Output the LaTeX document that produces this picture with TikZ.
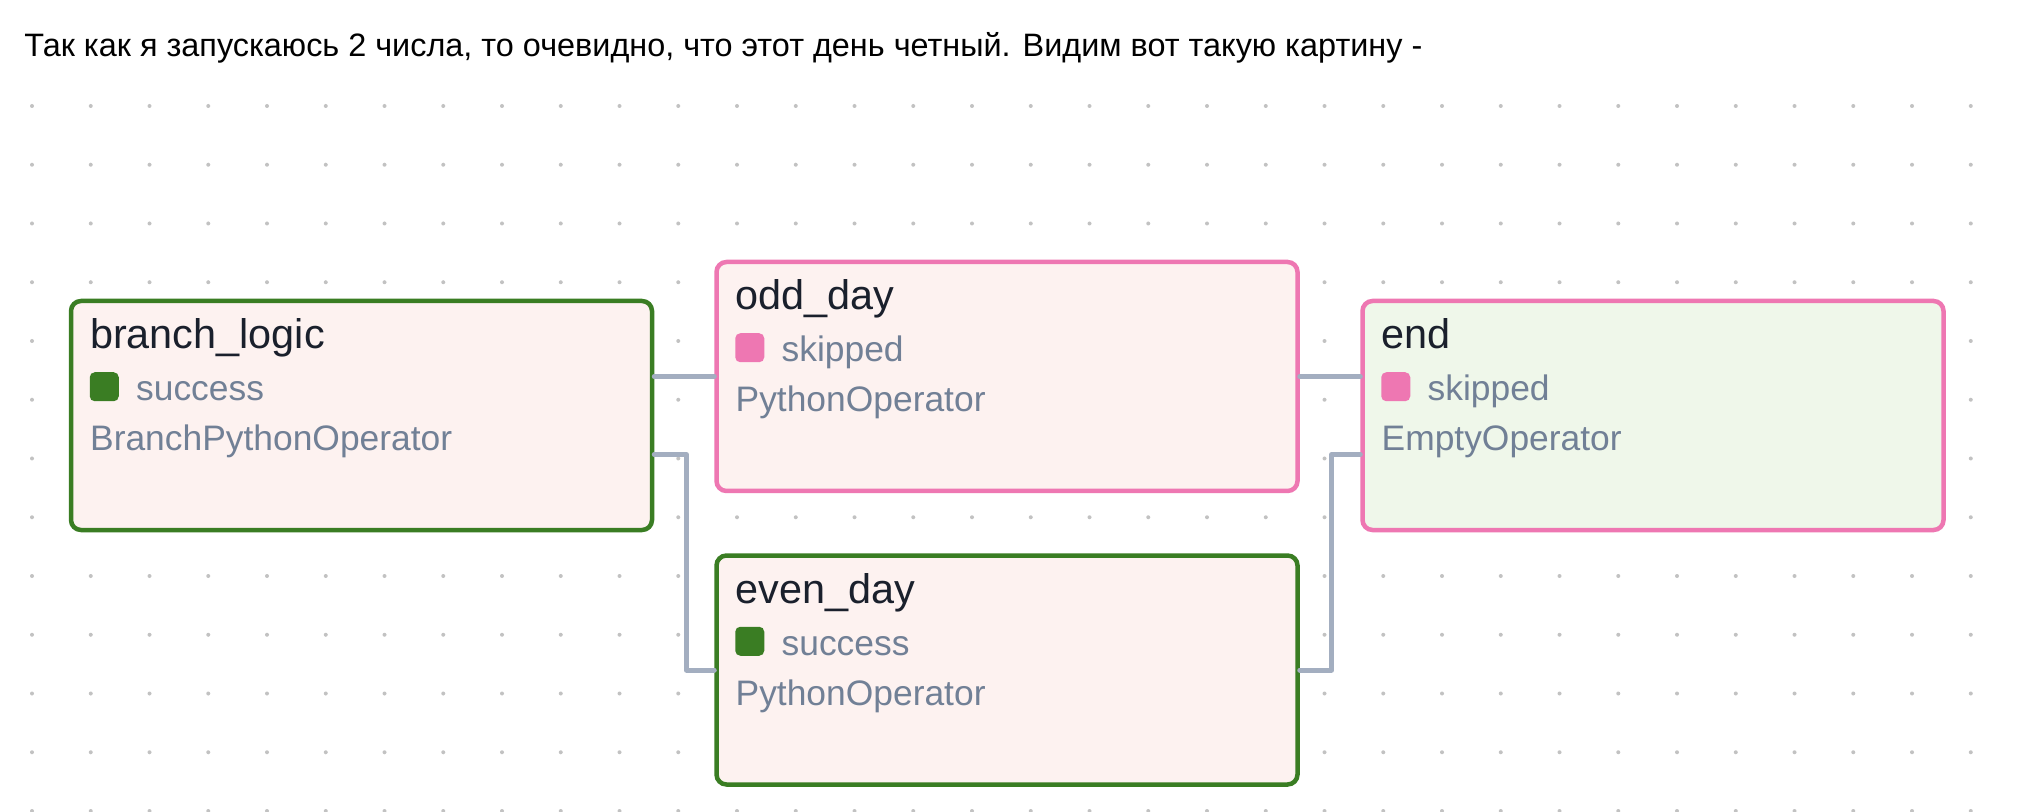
\documentclass[tikz,border=0pt]{standalone}
\usepackage{fontspec}
\setmainfont{Liberation Sans}
\usetikzlibrary{positioning}

\definecolor{okgreen}{HTML}{3A7D23}
\definecolor{skippink}{HTML}{EE77B2}
\definecolor{taskfill}{HTML}{FDF2F0}
\definecolor{endfill}{HTML}{EFF7EA}
\definecolor{titleink}{HTML}{1A202C}
\definecolor{greyink}{HTML}{718096}
\definecolor{wireink}{HTML}{A3AEC0}
\definecolor{dotink}{HTML}{C2C2C2}

\begin{document}
\begin{tikzpicture}[x=0.5pt, y=-0.5pt,
  task/.style={rectangle, rounded corners=5pt, line width=2.25pt, minimum width=290.5pt, minimum height=114.5pt, inner sep=0pt},
  tasktitle/.style={anchor=base west, inner sep=0pt, text=titleink, font=\fontsize{20.7pt}{24pt}\selectfont},
  taskinfo/.style={anchor=base west, inner sep=0pt, text=greyink, font=\fontsize{17.7pt}{21pt}\selectfont},
  statebox/.style={rectangle, rounded corners=2.5pt, minimum size=14.5pt, inner sep=0pt},
  wire/.style={draw=wireink, line width=2.5pt, line cap=round, line join=round}]

\fill [white] (0,0) rectangle (2024,812);
\useasboundingbox (0,0) rectangle (2024,812);

% dotted canvas
\foreach \i in {0,...,33}
  \foreach \j in {0,...,12}
    \fill [dotink] ({32+58.75*\i},{106+58.75*\j}) circle (1pt);

\node [anchor=base west, inner sep=0pt, text=black, font=\fontsize{16.2pt}{20pt}\selectfont] (heading) at (24,57) {Так как я запускаюсь 2 числа, то очевидно, что этот день четный. Видим вот такую картину -};

% tasks
\node [task, draw=okgreen, fill=taskfill] (branchlogic) at (361.5,415.5) {};
\node [task, draw=skippink, fill=taskfill] (oddday) at (1007,376.5) {};
\node [task, draw=okgreen, fill=taskfill] (evenday) at (1007,670) {};
\node [task, draw=skippink, fill=endfill] (endtask) at (1653,415.5) {};

\node [tasktitle] (branchlogic-name) at ([shift={(21,50)}]branchlogic.north west) {branch\_logic};
\node [statebox, fill=okgreen] (branchlogic-dot) at ([shift={(35.5,88)}]branchlogic.north west) {};
\node [taskinfo] (branchlogic-state) at ([shift={(67,102)}]branchlogic.north west) {success};
\node [taskinfo] (branchlogic-op) at ([shift={(21,152)}]branchlogic.north west) {BranchPythonOperator};

\node [tasktitle] (oddday-name) at ([shift={(21,50)}]oddday.north west) {odd\_day};
\node [statebox, fill=skippink] (oddday-dot) at ([shift={(35.5,88)}]oddday.north west) {};
\node [taskinfo] (oddday-state) at ([shift={(67,102)}]oddday.north west) {skipped};
\node [taskinfo] (oddday-op) at ([shift={(21,152)}]oddday.north west) {PythonOperator};

\node [tasktitle] (evenday-name) at ([shift={(21,50)}]evenday.north west) {even\_day};
\node [statebox, fill=okgreen] (evenday-dot) at ([shift={(35.5,88)}]evenday.north west) {};
\node [taskinfo] (evenday-state) at ([shift={(67,102)}]evenday.north west) {success};
\node [taskinfo] (evenday-op) at ([shift={(21,152)}]evenday.north west) {PythonOperator};

\node [tasktitle] (endtask-name) at ([shift={(21,50)}]endtask.north west) {end};
\node [statebox, fill=skippink] (endtask-dot) at ([shift={(35.5,88)}]endtask.north west) {};
\node [taskinfo] (endtask-state) at ([shift={(67,102)}]endtask.north west) {skipped};
\node [taskinfo] (endtask-op) at ([shift={(21,152)}]endtask.north west) {EmptyOperator};

% edges
\path [wire] (oddday.west -| branchlogic.east) -- (oddday.west);
\path [wire] ([yshift=-19.5pt]branchlogic.east) -- ++(32,0) |- (evenday.west);
\path [wire] (oddday.east) -- (oddday.east -| endtask.west);
\path [wire] (evenday.east) -- ++(32,0) |- ([yshift=-19.5pt]endtask.west);

\end{tikzpicture}
\end{document}
